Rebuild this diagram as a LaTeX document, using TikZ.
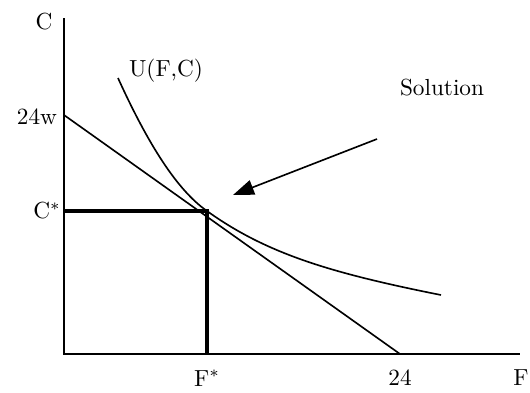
\documentclass[tikz,border=0pt]{standalone}
\usepackage{tikz}
\usetikzlibrary{arrows.meta}

\begin{document}
\begin{tikzpicture}[x=0.43pt,y=-0.43pt,
  axis/.style={line width=0.9pt},
  thinline/.style={line width=0.7pt},
  thickline/.style={line width=1.8pt}]
\useasboundingbox (0,0) rectangle (530,392);
\coordinate (O) at (64,354);
\coordinate (Ctop) at (64,18);
\coordinate (Fend) at (520,354);
\coordinate (Cmax) at (64,115); % 24w intercept
\coordinate (Fmax) at (400,354); % 24 intercept
\coordinate (E) at (207,211); % tangency point
\coordinate (Cs) at (64,211);
\coordinate (Fs) at (207,354);
\coordinate (Ustart) at (118,78);
\coordinate (Uend) at (441,295);
\coordinate (arrstart) at (377,139);
\coordinate (arrtip) at (233,195);
\draw[axis] (Ctop) -- (O) -- (Fend);
\draw[thinline] (Cmax) -- (Fmax); % budget line
\draw[thinline] (Ustart) .. controls (148,144) and (177,190) .. (E)
  .. controls (267,254) and (331,273) .. (Uend); % indifference curve
\draw[thickline] (Cs) -- (E) -- (Fs);
\draw[thinline, -{Triangle[length=9pt,width=6.5pt]}] (arrstart) -- (arrtip);
\node (labC) at (44,22) {C};
\node (lab24w) at (37,117) {24w};
\node (labCs) at (47,211) {C$^*$};
\node (labU) at (166,71) {U(F,C)};
\node (labSol) at (442,88) {Solution};
\node (labFs) at (207,378) {F$^*$};
\node (lab24) at (400,378) {24};
\node (labF) at (521,378) {F};
\end{tikzpicture}
\end{document}
